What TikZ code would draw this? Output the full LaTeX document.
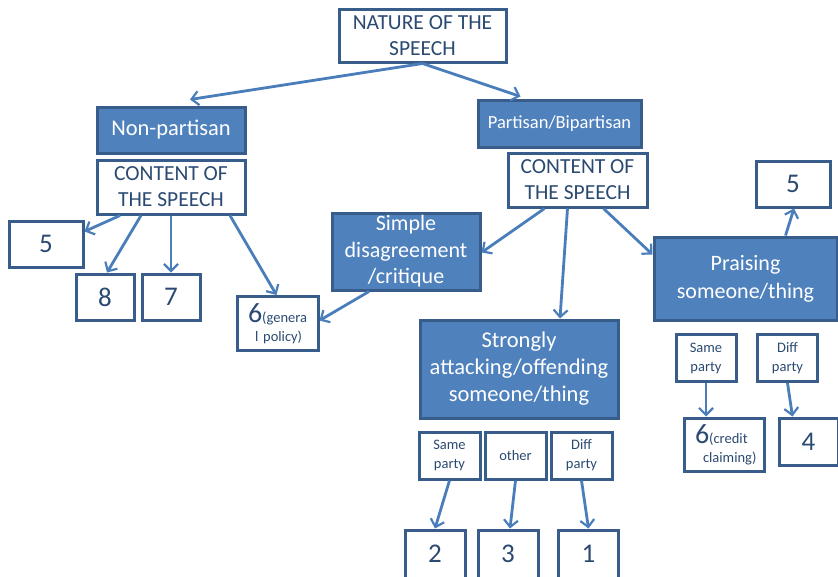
\documentclass[tikz,border=0pt]{standalone}
\usepackage{fontspec}
\setmainfont{Carlito}
\usetikzlibrary{arrows.meta}
\definecolor{boxfill}{HTML}{4F81BD}
\definecolor{boxline}{HTML}{385D8A}
\definecolor{arrowc}{HTML}{4A7EBB}
\definecolor{txt}{HTML}{2B4A72}
\tikzset{
  base/.style={rectangle, draw=boxline, line width=3pt, inner sep=0pt, align=center},
  bluebox/.style={base, fill=boxfill, text=white},
  whitebox/.style={base, fill=white, text=txt},
  wb/.style 2 args={whitebox, minimum width=#1, minimum height=#2},
  bb/.style 2 args={bluebox, minimum width=#1, minimum height=#2},
  conn/.style={draw=arrowc, line width=2.8pt, -{Straight Barb[length=7pt,width=14pt,line width=2.2pt]}},
  big/.style={font=\fontsize{21.5}{26}\selectfont},
  num/.style={font=\fontsize{27}{27}\selectfont},
  small/.style={font=\fontsize{14.5}{19}\selectfont}
}
\begin{document}
\begin{tikzpicture}[x=1pt,y=-1pt]
\useasboundingbox (0,0) rectangle (838,576);
% top
\node[wb={167pt}{53pt}, big] (nature) at (422.5,35.5) {NATURE OF THE\\SPEECH};
\node[bb={148pt}{46pt}, font=\fontsize{22.5}{26}\selectfont] (nonp) at (171,130) {Non-partisan};
\node[wb={148pt}{54pt}, big] (cont1) at (171,187) {CONTENT OF\\THE SPEECH};
\node[bb={163pt}{47pt}, font=\fontsize{18.5}{24}\selectfont] (part) at (559.5,123.5) {Partisan/Bipartisan};
\node[wb={139pt}{54pt}, big] (cont2) at (577.5,180) {CONTENT OF\\THE SPEECH};
% left leaves
\node[wb={74pt}{46pt}, num] (fiveL) at (46,244) {5};
\node[wb={58pt}{46pt}, num] (eight) at (105,297) {8};
\node[wb={58pt}{46pt}, num] (seven) at (171,297) {7};
\node[wb={81pt}{54pt}, align=left, text width=77pt, font=\fontsize{14.5}{19}\selectfont] (sixgp) at (277.5,323.5)
  {\hspace*{9pt}{\fontsize{28}{28}\selectfont 6}(genera\\
   \hspace*{16pt}l policy)};
% middle blue boxes
\node[bb={148pt}{77pt}, font=\fontsize{22}{26.5}\selectfont] (simple) at (406,251.5)
  {Simple\\disagreement\\/critique};
\node[bb={198pt}{98pt}, font=\fontsize{22.5}{27}\selectfont] (strong) at (519,369)
  {Strongly\\attacking/offending\\someone/thing};
\node[bb={183pt}{83pt}, font=\fontsize{22}{28}\selectfont] (praise) at (745.5,278.5)
  {Praising\\someone/thing};
\node[wb={74pt}{46pt}, num] (fiveR) at (793,184) {5};
% praising children
\node[wb={60pt}{47pt}, small] (sameR) at (706,358) {Same\\party};
\node[wb={60pt}{47pt}, small] (diffR) at (787.5,358) {Diff\\party};
\node[wb={80pt}{53pt}, align=left, text width=76pt, font=\fontsize{14.5}{19}\selectfont] (sixcc) at (724,444.5)
  {\hspace*{9pt}{\fontsize{28}{28}\selectfont 6}(credit\\
   \hspace*{17pt}claiming)};
\node[wb={59pt}{47pt}, num] (four) at (808.5,441.5) {4};
% strongly children
\node[wb={61pt}{47pt}, small] (sameB) at (449.5,455.5) {Same\\party};
\node[wb={61pt}{47pt}, small] (other) at (515.5,455.5) {other};
\node[wb={61pt}{47pt}, small] (diffB) at (581.5,455.5) {Diff\\party};
\node[wb={60pt}{48pt}, num] (two) at (435,554) {2};
\node[wb={60pt}{48pt}, num] (three) at (508,554) {3};
\node[wb={60pt}{48pt}, num] (one) at (588.5,554) {1};
% connectors
\draw[conn] (nature.south) -- ([xshift=19pt,yshift=6pt]nonp.north);
\draw[conn] (nature.south) -- ([xshift=-39pt,yshift=2pt]part.north);
\draw[conn] ([xshift=-51pt]cont1.south) -- ([yshift=-12pt]fiveL.north east);
\draw[conn] ([xshift=-30pt]cont1.south) -- ([xshift=2pt]eight.north);
\draw[conn] (cont1.south) -- (seven.north);
\draw[conn] ([xshift=59pt]cont1.south) -- ([xshift=-1pt]sixgp.north);
\draw[conn] ([xshift=-37pt]simple.south) -- ([yshift=3pt]sixgp.east);
\draw[conn] ([xshift=-33pt]cont2.south) -- ([yshift=-1pt]simple.east);
\draw[conn] ([xshift=-10pt]cont2.south) -- ([xshift=41pt]strong.north);
\draw[conn] ([xshift=26pt]cont2.south) -- ([yshift=-19pt]praise.north west);
\draw[conn] ([xshift=40pt]praise.north) -- ([xshift=1pt]fiveR.south);
\draw[conn] (sameR.south) -- (sameR.south |- sixcc.north);
\draw[conn] (diffR.south) -- ([xshift=-16pt]four.north);
\draw[conn] (sameB.south) -- (two.north);
\draw[conn] (other.south) -- ([xshift=2pt]three.north);
\draw[conn] (diffB.south) -- (one.north);
\end{tikzpicture}
\end{document}
